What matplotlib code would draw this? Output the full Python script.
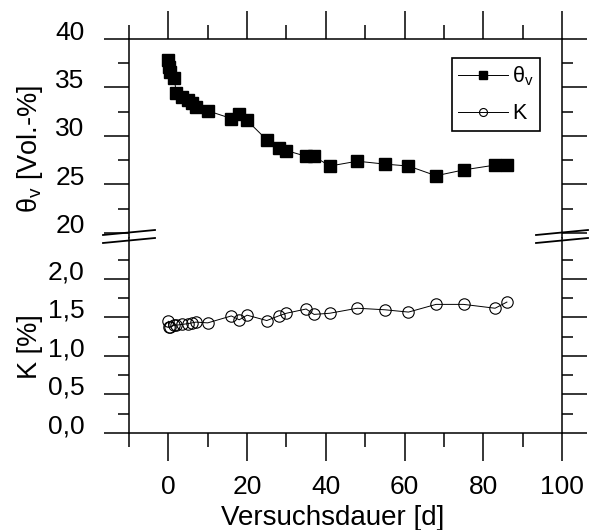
import matplotlib
matplotlib.use("Agg")
import matplotlib.pyplot as plt
from matplotlib.lines import Line2D
from matplotlib.transforms import ScaledTranslation
from matplotlib.ticker import FixedLocator, FuncFormatter

plt.rcParams['font.family'] = ['Liberation Sans', 'DejaVu Sans']
plt.rcParams['mathtext.fontset'] = 'custom'
plt.rcParams['mathtext.rm'] = 'Liberation Sans'
plt.rcParams['mathtext.it'] = 'Liberation Sans:italic'

# ---- data ----
days = [0, 0.1, 0.3, 1.5, 2, 3.5, 5, 6, 7, 10, 16, 18, 20, 25, 28, 30, 35, 37, 41, 48, 55, 61, 68, 75, 83, 86]
theta_v = [37.8, 37.1, 36.6, 36.0, 34.4, 34.0, 33.7, 33.4, 33.0, 32.6, 31.8, 32.3, 31.6, 29.6, 28.8, 28.5,
           27.9, 27.9, 26.9, 27.4, 27.1, 26.9, 25.9, 26.5, 27.0, 27.0]
K = [1.45, 1.38, 1.37, 1.40, 1.40, 1.41, 1.42, 1.43, 1.44, 1.43, 1.52, 1.47, 1.53, 1.46, 1.52, 1.555,
     1.61, 1.54, 1.555, 1.62, 1.60, 1.57, 1.67, 1.67, 1.62, 1.70]

x_major = [0, 20, 40, 60, 80, 100]
x_minor = [-10, 10, 30, 50, 70, 90]
top_major = [20, 25, 30, 35, 40]
top_minor = [22.5, 27.5, 32.5, 37.5]
bot_major = [0.0, 0.5, 1.0, 1.5, 2.0]
bot_minor = [0.25, 0.75, 1.25, 1.75, 2.25]

W, H = 590, 530
fig = plt.figure(figsize=(W / 100, H / 100), dpi=100)
left_px, right_px = 129, 562
top_px, split_px, bot_px = 39, 238, 433
L = left_px / W
Wd = (right_px - left_px) / W
ax_top = fig.add_axes([L, 1 - split_px / H, Wd, (split_px - top_px) / H])
ax_bot = fig.add_axes([L, 1 - bot_px / H, Wd, (bot_px - split_px) / H])

lw_sp = 1.1
for ax in (ax_top, ax_bot):
    ax.set_xlim(-10, 100)
    for s in ax.spines.values():
        s.set_linewidth(lw_sp)
    ax.xaxis.set_major_locator(FixedLocator(x_major))
    ax.xaxis.set_minor_locator(FixedLocator(x_minor))

ax_top.spines['bottom'].set_visible(False)
ax_bot.spines['top'].set_visible(False)

ax_top.set_ylim(19.48, 40)
ax_bot.set_ylim(0, 2.532)
ax_top.yaxis.set_major_locator(FixedLocator(top_major))
ax_top.yaxis.set_minor_locator(FixedLocator(top_minor))
ax_bot.yaxis.set_major_locator(FixedLocator(bot_major))
ax_bot.yaxis.set_minor_locator(FixedLocator(bot_minor))
ax_bot.yaxis.set_major_formatter(FuncFormatter(lambda v, p: f"{v:.1f}".replace('.', ',')))
ax_top.yaxis.set_major_formatter(FuncFormatter(lambda v, p: f"{v:.0f}"))

# x ticks
ax_top.tick_params(axis='x', which='both', direction='out', top=True, bottom=False,
                   labeltop=False, labelbottom=False, width=lw_sp)
ax_bot.tick_params(axis='x', which='both', direction='out', top=False, bottom=True,
                   labelbottom=True, width=lw_sp)
for ax in (ax_top, ax_bot):
    ax.tick_params(axis='x', which='major', length=20, pad=10, labelsize=19)
    ax.tick_params(axis='x', which='minor', length=10)
    ax.tick_params(axis='y', which='both', direction='out', left=True, right=True,
                   labelleft=True, labelright=False, width=lw_sp)
    ax.tick_params(axis='y', which='major', length=18, pad=14, labelsize=19)
    ax.tick_params(axis='y', which='minor', length=8)

# data
ax_top.plot(days, theta_v, color='black', lw=0.7, marker='s', ms=8.6,
            mfc='black', mec='black', label='θ$_\\mathrm{v}$', zorder=3)
ax_bot.plot(days, K, color='black', lw=0.7, marker='o', ms=8.2,
            mfc='none', mec='black', mew=0.8, label='K', zorder=3)

# legend
h1, l1 = ax_top.get_legend_handles_labels()
h2, l2 = ax_bot.get_legend_handles_labels()
leg = ax_top.legend(h1 + h2, l1 + l2, loc='upper right',
                    bbox_to_anchor=((540 - left_px) / (right_px - left_px),
                                    (split_px - 58) / (split_px - top_px)),
                    borderaxespad=0, fontsize=15.5, frameon=True, fancybox=False,
                    edgecolor='black', framealpha=1, handlelength=2.3,
                    handletextpad=0.2, borderpad=0.3, labelspacing=0.7,
                    markerscale=0.7)
leg.get_frame().set_linewidth(1.2)

# axis labels
ax_bot.set_xlabel('Versuchsdauer [d]', fontsize=20, va='center')
ax_bot.xaxis.set_label_coords((333 - left_px) / (right_px - left_px),
                              -(518 - bot_px) / (bot_px - split_px))
ax_top.set_ylabel('θ$_\\mathrm{v}$ [Vol.-%]', fontsize=19.5, va='center')
ax_top.yaxis.set_label_coords((30 - left_px) / (right_px - left_px),
                              (split_px - 149) / (split_px - top_px))
ax_bot.set_ylabel('K [%]', fontsize=19.5, va='center')
ax_bot.yaxis.set_label_coords((30 - left_px) / (right_px - left_px),
                              (bot_px - 347) / (bot_px - split_px))

# shift y tick labels upward (as in reference)
off = ScaledTranslation(0, 9 / 100, fig.dpi_scale_trans)
for ax in (ax_top, ax_bot):
    for lab in ax.get_yticklabels():
        lab.set_transform(lab.get_transform() + off)

# break marks
def fx(px):
    return px / W

def fy(py):
    return 1 - py / H

for sx in (left_px, right_px):
    for d0, d1 in ((-3, -8), (5, 0)):
        fig.add_artist(Line2D([fx(sx - 26), fx(sx + 26)],
                              [fy(split_px + d0), fy(split_px + d1)],
                              color='black', lw=1.3))

fig.savefig('out.png', dpi=100)
